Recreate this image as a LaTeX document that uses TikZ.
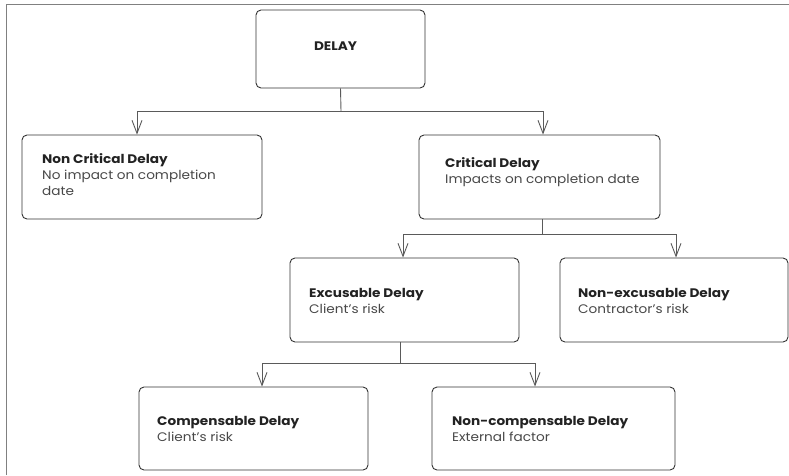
\documentclass[tikz,border=0pt]{standalone}
\usepackage{fontspec}
\setmainfont{Poppins}[FakeStretch=1.1]
\usetikzlibrary{arrows.meta}
\definecolor{boxline}{HTML}{333333}
\definecolor{linkline}{HTML}{5A5A5A}
\definecolor{frameline}{HTML}{808080}
\definecolor{headtext}{HTML}{222222}
\definecolor{bodytext}{HTML}{484848}
\tikzset{
  stage/.style={draw=boxline, line width=0.9pt, rounded corners=5pt, inner sep=0pt},
  head/.style={anchor=base west, inner sep=0pt, font=\fontsize{12.4}{14}\selectfont\bfseries, text=headtext},
  body/.style={anchor=base west, inner sep=0pt, font=\fontsize{12.4}{14}\selectfont, text=bodytext},
  link/.style={draw=linkline, line width=0.9pt},
  flow/.style={link, -{Straight Barb[length=13pt,width=10pt,line width=0.9pt]}},
}
\begin{document}
\begin{tikzpicture}[x=1pt,y=-1pt]
\useasboundingbox (0,0) rectangle (789,475);
% outer frame (top and left edges)
\draw[frameline, line width=1pt] (6,475) -- (6,4) -- (789,4);

% boxes
\node[stage, minimum width=169pt, minimum height=78pt] (delay)   at (340.5,49) {};
\node[stage, minimum width=240pt, minimum height=84pt] (noncrit) at (142,177) {};
\node[stage, minimum width=241pt, minimum height=84pt] (crit)    at (539.5,177) {};
\node[stage, minimum width=229pt, minimum height=84pt] (excu)    at (404.5,300) {};
\node[stage, minimum width=228pt, minimum height=84pt] (nonexcu) at (674,300) {};
\node[stage, minimum width=229pt, minimum height=83pt] (comp)    at (253.5,428.5) {};
\node[stage, minimum width=243pt, minimum height=83pt] (noncomp) at (553.5,428.5) {};

% labels
\node[head, anchor=base] (delayT) at (335.5,50.5) {DELAY};

\node[head] (noncritT) at (42,163) {Non Critical Delay};
\node[body] (noncritA) at (42,179) {No impact on completion};
\node[body] (noncritB) at (42,195) {date};

\node[head] (critT) at (445,167) {Critical Delay};
\node[body] (critA) at (445,183) {Impacts on completion date};

\node[head] (excuT) at (309,297) {Excusable Delay};
\node[body] (excuA) at (309,313) {Client's risk};

\node[head] (nonexcuT) at (578,297) {Non-excusable Delay};
\node[body] (nonexcuA) at (578,313) {Contractor's risk};

\node[head] (compT) at (157,425) {Compensable Delay};
\node[body] (compA) at (157,441) {Client's risk};

\node[head] (noncompT) at (452,425) {Non-compensable Delay};
\node[body] (noncompA) at (452,441) {External factor};

% junction points of the tree
\coordinate (j1) at (341,111);
\coordinate (j2) at (542,234);
\coordinate (j3) at (400,363);

% connectors
\draw[link] (delay.south) -- (j1);
\draw[flow] (j1) -| ([xshift=-5pt]noncrit.north);
\draw[flow] (j1) -| ([xshift=3.5pt]crit.north);

\draw[link] (crit.south -| j2) -- (j2);
\draw[flow] (j2) -| ([xshift=-1.5pt]excu.north);
\draw[flow] (j2) -| ([xshift=2pt]nonexcu.north);

\draw[link] (excu.south -| j3) -- (j3);
\draw[flow] (j3) -| ([xshift=8.5pt]comp.north);
\draw[flow] (j3) -| ([xshift=-18.5pt]noncomp.north);
\end{tikzpicture}
\end{document}
